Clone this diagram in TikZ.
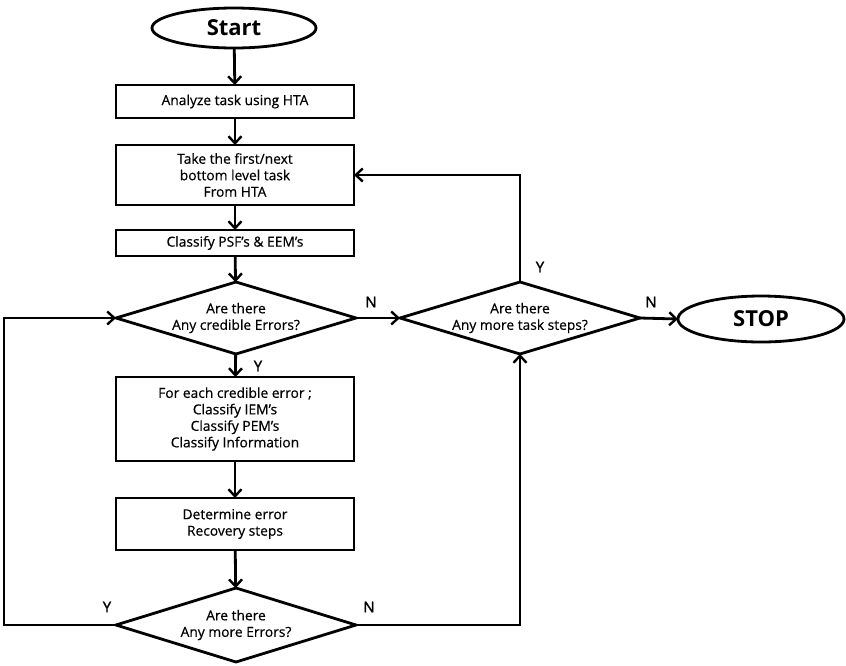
\documentclass[tikz,border=0pt]{standalone}
\usepackage{fontspec}
\setmainfont{Open Sans}
\newfontfamily\bodyfont{Open Sans}[FakeBold=0.5]
\newfontfamily\labfont{Open Sans}[FakeBold=1.5]
\usetikzlibrary{shapes.geometric,arrows.meta}
\begin{document}
\begin{tikzpicture}[x=1pt,y=-1pt,
  line width=2.8pt,
  txt/.style={font=\fontsize{13.8}{16.5}\bodyfont, align=center},
  box/.style={draw, txt, rectangle, minimum width=238pt, outer sep=0pt, inner sep=2pt},
  dec/.style={draw, txt, diamond, minimum width=240pt, minimum height=72pt, aspect=3.3, inner sep=0pt, outer sep=0pt},
  term/.style={draw, ellipse, font=\fontsize{22}{24}\bfseries\selectfont, outer sep=0pt, inner sep=0pt},
  lab/.style={font=\fontsize{15}{16}\labfont},
  arr/.style={-{Straight Barb[length=7pt,width=13pt,line width=2.4pt]}}
]
\useasboundingbox (0,0) rectangle (846,665);
\node[term, minimum width=164pt, minimum height=40pt] (start) at (234,28) {Start};
\node[box, minimum height=33pt] (analyze) at (235,101.5) {Analyze task using HTA};
\node[box, minimum height=60pt] (take) at (235,175) {Take the first/next\\bottom level task\\From HTA};
\node[box, minimum height=26pt] (classify) at (235,243) {Classify PSF’s \& EEM’s};
\node[dec] (d1) at (236,318) {Are there\\Any credible Errors?};
\node[dec] (d2) at (520,318) {Are there\\Any more task steps?};
\node[term, minimum width=166pt, minimum height=46pt] (stop) at (761,319) {STOP};
\node[box, minimum height=84pt] (foreach) at (235,419) {For each credible error ;\\Classify IEM’s\\Classify PEM’s\\Classify Information};
\node[box, minimum height=52pt] (determine) at (235,524) {Determine error\\Recovery steps};
\node[dec, minimum height=74pt] (d3) at (236,625) {Are there\\Any more Errors?};
\coordinate (c1) at (520,175);
\coordinate (c2) at (4,625);
\coordinate (c3) at (4,318);
\coordinate (c4) at (520,625);

\draw[arr] (start) -- (analyze);
\draw[arr] (analyze) -- (take);
\draw[arr] (take) -- (classify);
\draw[arr] (classify) -- (d1);
\draw[arr] (d1) -- (foreach);
\draw[arr] (foreach) -- (determine);
\draw[arr] (determine) -- (d3);
\draw[arr] (d1.east) -- (d2.west);
\draw[arr] (d2.east) -- (stop.west);
\draw[arr] (d2.north) -- (c1) -- (take.east);
\draw[arr] (d3.east) -- (c4) -- (d2.south);
\draw[arr] (d3.west) -- (c2) -- (c3) -- (d1.west);

\node[lab] (ly1) at (258,366) {Y};
\node[lab] (ln1) at (371,302) {N};
\node[lab] (ly2) at (540,267) {Y};
\node[lab] (ln2) at (651,302) {N};
\node[lab] (ly3) at (107,607) {Y};
\node[lab] (ln3) at (369,607) {N};
\end{tikzpicture}
\end{document}
